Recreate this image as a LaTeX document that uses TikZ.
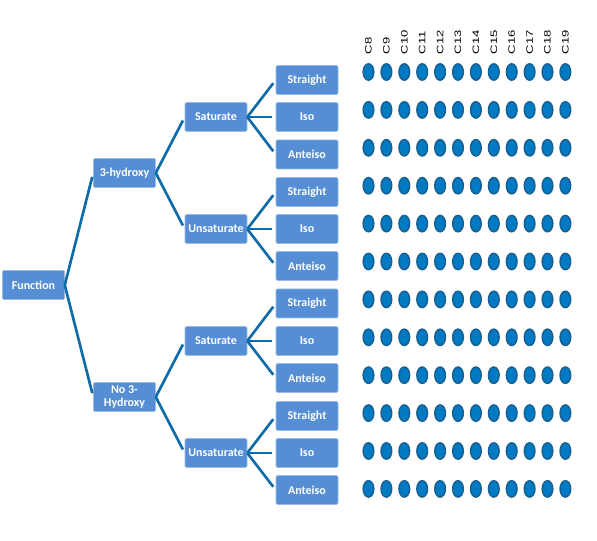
\documentclass[tikz,border=0pt]{standalone}
\usepackage{fontspec}
\setmainfont{Carlito}
\newfontfamily\labelfont{Liberation Sans}
\usetikzlibrary{shapes.geometric}
\definecolor{boxblue}{RGB}{85,142,213}
\definecolor{linkblue}{RGB}{14,108,168}
\definecolor{dotblue}{RGB}{0,122,194}
\definecolor{dotedge}{RGB}{24,96,146}

\begin{document}
\begin{tikzpicture}[x=0.75pt,y=-0.75pt,
  box/.style={draw=boxblue!60!white, fill=boxblue, rounded corners=1pt,
    minimum width=46.5pt, minimum height=21.75pt, inner sep=1pt,
    text=white, font=\fontsize{9}{9.5}\selectfont\bfseries, align=center},
  link/.style={draw=linkblue, line width=2pt, shorten >=3pt},
  dot/.style={ellipse, draw=dotedge, fill=dotblue, line width=1.1pt,
    minimum width=8pt, minimum height=12.3pt, inner sep=0pt}]
  \useasboundingbox (0,0) rectangle (597,541);
  % tree
  \node[box] (fn)  at (33.5,285)  {Function};
  \node[box] (h3)  at (124.5,173) {3-hydroxy};
  \node[box] (nh3) at (124.5,397) {No 3-\\Hydroxy};
  \node[box] (m1)  at (216,117)   {Saturate};
  \node[box] (m2)  at (216,229)   {Unsaturate};
  \node[box] (m3)  at (216,341)   {Saturate};
  \node[box] (m4)  at (216,453)   {Unsaturate};
  \foreach \lf/\y [count=\i] in {Straight/80, Iso/117, Anteiso/154.5,
      Straight/192, Iso/229, Anteiso/266, Straight/303.5, Iso/341,
      Anteiso/378, Straight/416, Iso/453, Anteiso/490}
    \node[box] (l\i) at (307,\y) {\lf};
  \draw[link] (fn.east) -- (h3.west);
  \draw[link] (fn.east) -- (nh3.west);
  \draw[link] (h3.east) -- (m1.west);
  \draw[link] (h3.east) -- (m2.west);
  \draw[link] (nh3.east) -- (m3.west);
  \draw[link] (nh3.east) -- (m4.west);
  \foreach \i in {1,...,12} {
    \pgfmathtruncatemacro\p{int((\i-1)/3)+1}
    \draw[link] (m\p.east) -- (l\i.west);
  }
  % carbon columns
  \foreach \c [count=\j from 0] in {8,...,19} {
    \node[rotate=90, anchor=west, inner sep=0pt,
      font=\labelfont\fontsize{7}{8}\selectfont] (c\c) at (368.5+17.9*\j,54.5)
      {\scalebox{1.4}[1]{C\c}};
    \foreach \r in {0,...,11}
      \node[dot] (d\c-\r) at (368.5+17.9*\j,72+37.9*\r) {};
  }
\end{tikzpicture}
\end{document}
